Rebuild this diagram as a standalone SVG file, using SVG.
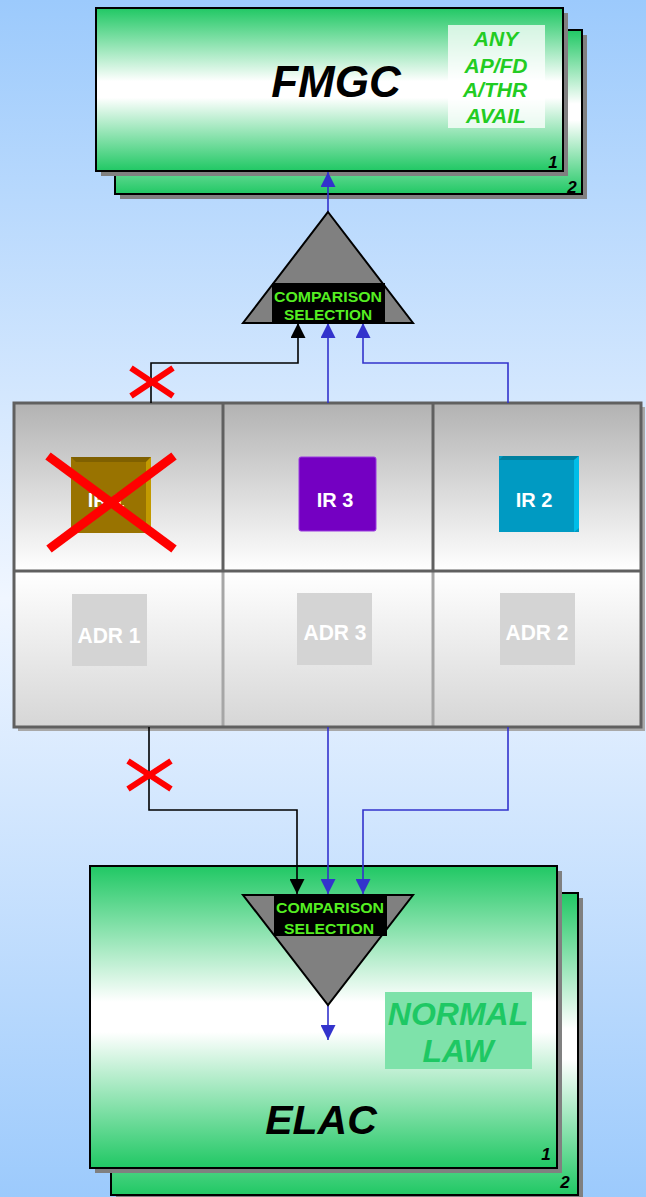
<svg xmlns="http://www.w3.org/2000/svg" width="646" height="1197" viewBox="0 0 646 1197">
<defs>
<linearGradient id="bg" x1="0" y1="0" x2="0" y2="1">
<stop offset="0" stop-color="#9ccafc"/>
<stop offset="0.5" stop-color="#f0f6ff"/>
<stop offset="1" stop-color="#9ccafc"/>
</linearGradient>
<linearGradient id="gbox" x1="0" y1="0" x2="0" y2="1">
<stop offset="0" stop-color="#20c864"/>
<stop offset="0.45" stop-color="#ffffff"/>
<stop offset="0.55" stop-color="#ffffff"/>
<stop offset="1" stop-color="#20c864"/>
</linearGradient>
<linearGradient id="topcell" x1="0" y1="0" x2="0" y2="1">
<stop offset="0" stop-color="#b2b2b2"/>
<stop offset="1" stop-color="#ffffff"/>
</linearGradient>
<linearGradient id="botcell" x1="0" y1="0" x2="0" y2="1">
<stop offset="0" stop-color="#ffffff"/>
<stop offset="1" stop-color="#d6d6d6"/>
</linearGradient>
<marker id="ab" viewBox="0 0 14 14" refX="14" refY="7" markerWidth="15" markerHeight="15" markerUnits="userSpaceOnUse" orient="auto">
<path d="M0,0 L14,7 L0,14 z" fill="#3333cc"/>
</marker>
<marker id="ak" viewBox="0 0 14 14" refX="14" refY="7" markerWidth="15" markerHeight="15" markerUnits="userSpaceOnUse" orient="auto">
<path d="M0,0 L14,7 L0,14 z" fill="#000000"/>
</marker>
</defs>
<style>
.box{fill:url(#gbox);stroke:#000;stroke-width:2}
.shadow{fill:#808080}
.title{font-family:"Liberation Sans",Arial,sans-serif;font-weight:bold;font-style:italic;fill:#000;text-anchor:middle}
.num{font-family:"Liberation Sans",Arial,sans-serif;font-weight:bold;font-style:italic;font-size:17px;fill:#000;text-anchor:middle}
.avail{font-family:"Liberation Sans",Arial,sans-serif;font-weight:bold;font-style:italic;font-size:21px;fill:#22cc22;text-anchor:middle}
.cmp{font-family:"Liberation Sans",Arial,sans-serif;font-weight:bold;font-size:15px;fill:#55ee22;text-anchor:middle}
.tri{fill:#808080;stroke:#000;stroke-width:2;stroke-linejoin:miter}
.ir{font-family:"Liberation Sans",Arial,sans-serif;font-weight:bold;font-size:20px;fill:#fff;text-anchor:middle}
.adr{font-family:"Liberation Sans",Arial,sans-serif;font-weight:bold;font-size:22px;fill:#fff;text-anchor:middle}
.adrbox{fill:#d4d4d4}
.blue{fill:none;stroke:#3333cc;stroke-width:1.6}
.black{fill:none;stroke:#000;stroke-width:1.6}
.redx{stroke:#ff0000;stroke-linecap:butt}
</style>
<rect x="0" y="0" width="646" height="1197" fill="url(#bg)"/>

<g id="fmgc">
<rect class="shadow" x="120" y="35" width="467" height="164"/>
<rect class="box" x="115" y="30" width="467" height="164"/>
<text class="num" x="572" y="193">2</text>
<rect class="shadow" x="101" y="13" width="467" height="163"/>
<rect class="box" x="96" y="8" width="467" height="163"/>
<text class="title" x="336" y="97" font-size="44">FMGC</text>
<rect x="448" y="25" width="97" height="103" fill="#ffffff" fill-opacity="0.75"/>
<text class="avail" x="496" y="46">ANY</text>
<text class="avail" x="496" y="73">AP/FD</text>
<text class="avail" x="495" y="97">A/THR</text>
<text class="avail" x="496" y="123">AVAIL</text>
<text class="num" x="553" y="168">1</text>
</g>

<g id="elac">
<rect class="shadow" x="116" y="898" width="467" height="302"/>
<rect class="box" x="111" y="893" width="467" height="302"/>
<text class="num" x="565" y="1188">2</text>
<rect class="shadow" x="95" y="871" width="467" height="302"/>
<rect class="box" x="90" y="866" width="467" height="302"/>
<text class="title" x="321" y="1134" font-size="41">ELAC</text>
<text class="num" x="546" y="1160">1</text>
<rect x="385" y="992" width="147" height="77" fill="#7ee2aa"/>
<text class="title" x="458" y="1025" font-size="32" style="fill:#1ec864">NORMAL</text>
<text class="title" x="458" y="1062" font-size="32" style="fill:#1ec864">LAW</text>
</g>

<g id="grid">
<rect x="18" y="407" width="627" height="324" fill="#a8a8a8"/>
<rect x="14" y="403" width="209" height="168" fill="url(#topcell)"/>
<rect x="223" y="403" width="210" height="168" fill="url(#topcell)"/>
<rect x="433" y="403" width="208" height="168" fill="url(#topcell)"/>
<rect x="14" y="571" width="209" height="156" fill="url(#botcell)"/>
<rect x="223" y="571" width="210" height="156" fill="url(#botcell)"/>
<rect x="433" y="571" width="208" height="156" fill="url(#botcell)"/>
<line x1="223" y1="571" x2="223" y2="727" stroke="#a6a6a6" stroke-width="3"/>
<line x1="433" y1="571" x2="433" y2="727" stroke="#a6a6a6" stroke-width="3"/>
<line x1="223" y1="403" x2="223" y2="571" stroke="#606060" stroke-width="3"/>
<line x1="433" y1="403" x2="433" y2="571" stroke="#606060" stroke-width="3"/>
<line x1="14" y1="571" x2="641" y2="571" stroke="#606060" stroke-width="3"/>
<rect x="14" y="403" width="627" height="324" fill="none" stroke="#606060" stroke-width="3"/>
</g>

<g id="ir1">
<rect x="71" y="457" width="80" height="76" fill="#997300"/>
<polygon points="71,457 151,457 146,462 76,462" fill="#7f6000"/>
<polygon points="146,462 151,457 151,533 146,533" fill="#c29a00"/>
<text class="ir" x="106" y="507">IR 1</text>
<line class="redx" x1="48" y1="456" x2="174" y2="549" stroke-width="9"/>
<line class="redx" x1="174" y1="456" x2="49" y2="549" stroke-width="9"/>
</g>
<g id="ir3">
<rect x="299" y="457" width="77" height="74" rx="2" fill="#7400c2" stroke="#9a3be0" stroke-width="1"/>
<text class="ir" x="335" y="507">IR 3</text>
</g>
<g id="ir2">
<rect x="499" y="456" width="80" height="76" fill="#009ac2"/>
<polygon points="499,460 503,456 579,456 574,460" fill="#00809f"/>
<polygon points="574,460 579,456 579,528 574,532" fill="#00bde8"/>
<text class="ir" x="534" y="507">IR 2</text>
</g>
<g id="adr1">
<rect class="adrbox" x="72" y="594" width="75" height="72"/>
<text class="adr" x="109" y="643" textLength="63" lengthAdjust="spacingAndGlyphs">ADR 1</text>
</g>
<g id="adr3">
<rect class="adrbox" x="297" y="593" width="75" height="72"/>
<text class="adr" x="335" y="640" textLength="63" lengthAdjust="spacingAndGlyphs">ADR 3</text>
</g>
<g id="adr2">
<rect class="adrbox" x="500" y="593" width="75" height="72"/>
<text class="adr" x="537" y="640" textLength="63" lengthAdjust="spacingAndGlyphs">ADR 2</text>
</g>

<g id="connectors">
<line class="blue" x1="328" y1="212" x2="328" y2="172" marker-end="url(#ab)"/>
<polyline class="black" points="151,403 151,363 298,363 298,323" marker-end="url(#ak)"/>
<line class="blue" x1="328" y1="403" x2="328" y2="323" marker-end="url(#ab)"/>
<polyline class="blue" points="508,403 508,363 363,363 363,323" marker-end="url(#ab)"/>
<polyline class="black" points="149,727 149,810 297,810 297,894" marker-end="url(#ak)"/>
<line class="blue" x1="328" y1="727" x2="328" y2="894" marker-end="url(#ab)"/>
<polyline class="blue" points="508,727 508,810 363,810 363,894" marker-end="url(#ab)"/>
<line class="blue" x1="328" y1="1005" x2="328" y2="1040" marker-end="url(#ab)"/>
</g>

<g id="x-top">
<line class="redx" x1="131" y1="368" x2="173" y2="396" stroke-width="6"/>
<line class="redx" x1="173" y1="368" x2="131" y2="396" stroke-width="6"/>
</g>
<g id="x-bottom">
<line class="redx" x1="128" y1="761" x2="171" y2="789" stroke-width="6"/>
<line class="redx" x1="171" y1="761" x2="128" y2="789" stroke-width="6"/>
</g>

<g id="cmp-top">
<polygon class="tri" points="328,212 413,323 243,323"/>
<rect x="272" y="283" width="113" height="40" fill="#000"/>
<text class="cmp" x="328" y="302" textLength="108" lengthAdjust="spacingAndGlyphs">COMPARISON</text>
<text class="cmp" x="328" y="320" textLength="88" lengthAdjust="spacingAndGlyphs">SELECTION</text>
</g>
<g id="cmp-bottom">
<polygon class="tri" points="243,895 413,895 328,1005"/>
<rect x="274" y="896" width="113" height="40" fill="#000"/>
<text class="cmp" x="330" y="913" textLength="108" lengthAdjust="spacingAndGlyphs">COMPARISON</text>
<text class="cmp" x="329" y="934" textLength="90" lengthAdjust="spacingAndGlyphs">SELECTION</text>
</g>
</svg>
